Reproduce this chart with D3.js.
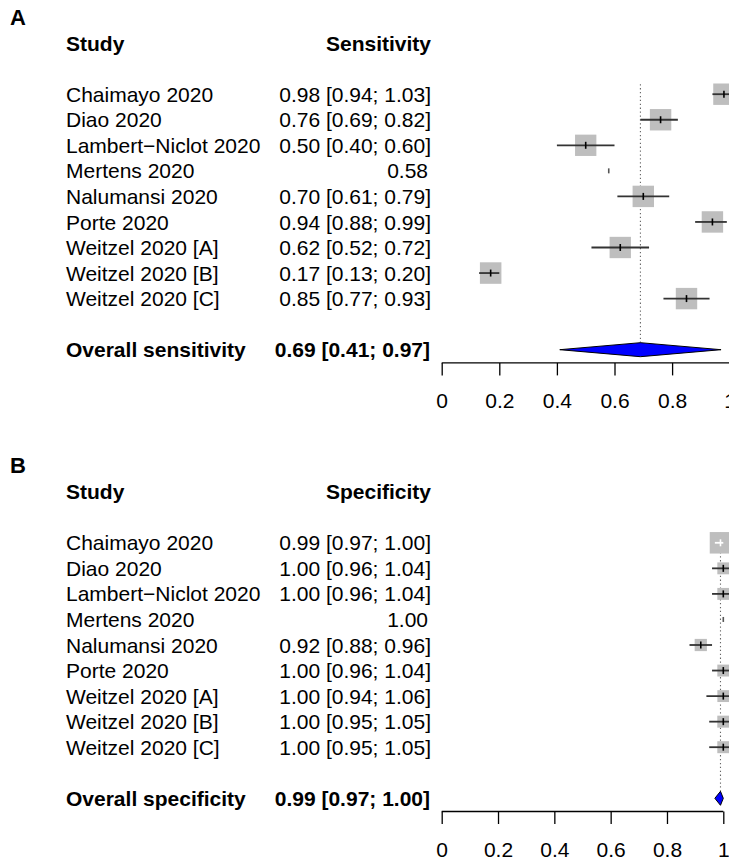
<!DOCTYPE html>
<html>
<head>
<meta charset="utf-8">
<script src="https://cdn.jsdelivr.net/npm/d3@7"></script>
<style>
  html, body { margin: 0; padding: 0; background: #fff; overflow: hidden; }
  text { font-family: "Liberation Sans", Arial, sans-serif; fill: #000; }
</style>
</head>
<body>
<svg id="chart" width="729" height="863"></svg>
<script>
// Study labels shared by both panels
const studies = [
  "Chaimayo 2020", "Diao 2020", "Lambert\u2212Niclot 2020", "Mertens 2020",
  "Nalumansi 2020", "Porte 2020", "Weitzel 2020 [A]", "Weitzel 2020 [B]", "Weitzel 2020 [C]"
];

// Sensitivity: estimate, lower and upper 95% CI, weight (%)
const sensEst   = [0.98, 0.76, 0.50, 0.58, 0.70, 0.94, 0.62, 0.17, 0.85];
const sensLower = [0.94, 0.69, 0.40, null, 0.61, 0.88, 0.52, 0.13, 0.77];
const sensUpper = [1.03, 0.82, 0.60, null, 0.79, 0.99, 0.72, 0.20, 0.93];
const sensWeight = [12.5, 12.5, 12.4, 0, 12.5, 12.5, 12.4, 12.6, 12.5];
const sensPooled = [0.69, 0.41, 0.97];

// Specificity: estimate, lower and upper 95% CI, weight (%)
const specEst   = [0.99, 1.00, 1.00, 1.00, 0.92, 1.00, 1.00, 1.00, 1.00];
const specLower = [0.97, 0.96, 0.96, null, 0.88, 0.96, 0.94, 0.95, 0.95];
const specUpper = [1.00, 1.04, 1.04, null, 0.96, 1.04, 1.06, 1.05, 1.05];
const specWeight = [31.5, 9.7, 9.7, 0, 10.2, 9.7, 9.6, 9.8, 9.8];
const specPooled = [0.99, 0.97, 1.00];

const axisTicks = [0, 0.2, 0.4, 0.6, 0.8, 1];

const svg = d3.select("#chart");
const FS = 21;
const fmt = d3.format(".2f");

function panel(opts) {
  const g = svg.append("g").attr("transform", `translate(0,${opts.top})`);
  const rowH = 25.55;
  const y = d3.scaleLinear().domain([0, 1]).range([0, rowH]); // row index -> offset
  const row0 = 51.1;       // first study row centre
  const yRow = i => row0 + y(i);
  const yPooled = yRow(10);
  const yAxis = yPooled + 13.2;
  const x = d3.scaleLinear().domain([0, 1]).range([441.7, opts.xOne]);
  const rightCol = 431;

  // panel letter
  g.append("text").attr("x", 10).attr("y", -18.5 + 0)
    .attr("font-size", 22).attr("font-weight", "bold").text(opts.letter);

  // headers
  g.append("text").attr("x", 66).attr("y", yRow(-2) + 7.6)
    .attr("font-size", FS).attr("font-weight", "bold").text("Study");
  g.append("text").attr("x", rightCol).attr("y", yRow(-2) + 7.6)
    .attr("text-anchor", "end").attr("font-size", FS).attr("font-weight", "bold").text(opts.header);

  const data = studies.map((s, i) => ({
    name: s, est: opts.est[i], lo: opts.lower[i], hi: opts.upper[i], w: opts.weight[i], i
  }));
  const wMax = d3.max(data, d => d.w);
  const size = d3.scaleSqrt().domain([0, wMax]).range([0, 21.5]);

  // study labels
  g.selectAll("text.study").data(data).join("text").attr("class", "study")
    .attr("x", 66).attr("y", d => yRow(d.i) + 7.6).attr("font-size", FS).text(d => d.name);
  g.selectAll("text.ci").data(data).join("text").attr("class", "ci")
    .attr("x", d => d.lo == null ? rightCol - 3 : rightCol)
    .attr("y", d => yRow(d.i) + 7.6).attr("text-anchor", "end").attr("font-size", FS)
    .text(d => d.lo == null ? fmt(d.est) : `${fmt(d.est)} [${fmt(d.lo)}; ${fmt(d.hi)}]`);

  // reference line at pooled estimate
  g.append("line")
    .attr("x1", x(opts.pooled[0])).attr("x2", x(opts.pooled[0]))
    .attr("y1", yRow(0) - 10).attr("y2", yPooled - 7)
    .attr("stroke", "#666").attr("stroke-width", 1.1).attr("stroke-dasharray", "1.3,2.6");

  // weight squares
  g.selectAll("rect.sq").data(data.filter(d => d.w > 0)).join("rect").attr("class", "sq")
    .attr("x", d => x(d.est) - size(d.w) / 2).attr("y", d => yRow(d.i) - size(d.w) / 2)
    .attr("width", d => size(d.w)).attr("height", d => size(d.w))
    .attr("fill", "#bebebe");

  // confidence intervals (white when hidden inside the square)
  const inside = d => d.lo != null &&
    x(d.lo) >= x(d.est) - size(d.w) / 2 && x(d.hi) <= x(d.est) + size(d.w) / 2;
  g.selectAll("line.ci").data(data.filter(d => d.lo != null)).join("line").attr("class", "ci")
    .attr("x1", d => x(d.lo)).attr("x2", d => x(d.hi))
    .attr("y1", d => yRow(d.i)).attr("y2", d => yRow(d.i))
    .attr("stroke", d => inside(d) ? "#fff" : "#333").attr("stroke-width", 1.8);

  // point estimate ticks
  g.selectAll("line.pt").data(data).join("line").attr("class", "pt")
    .attr("x1", d => x(d.est)).attr("x2", d => x(d.est))
    .attr("y1", d => yRow(d.i) - (d.lo == null ? 2.5 : 3.5))
    .attr("y2", d => yRow(d.i) + (d.lo == null ? 2.5 : 3.5))
    .attr("stroke", d => inside(d) ? "#fff" : (d.lo == null ? "#555" : "#000"))
    .attr("stroke-width", 1.6);

  // pooled row
  g.append("text").attr("x", 66).attr("y", yPooled + 7.6)
    .attr("font-size", FS).attr("font-weight", "bold").text(opts.pooledLabel);
  g.append("text").attr("x", rightCol - 1).attr("y", yPooled + 7.6)
    .attr("text-anchor", "end").attr("font-size", FS).attr("font-weight", "bold")
    .text(`${fmt(opts.pooled[0])} [${fmt(opts.pooled[1])}; ${fmt(opts.pooled[2])}]`);
  const [pe, pl, pu] = opts.pooled;
  g.append("polygon")
    .attr("points", [[x(pl), yPooled], [x(pe), yPooled - 7], [x(pu), yPooled], [x(pe), yPooled + 7]]
      .map(p => p.join(",")).join(" "))
    .attr("fill", "#0000ff").attr("stroke", "#000").attr("stroke-width", 1);

  // x axis
  const ax = g.append("g").attr("transform", `translate(0,${yAxis})`)
    .call(d3.axisBottom(x).tickValues(axisTicks).tickFormat(d3.format("~g"))
      .tickSize(12.5).tickSizeOuter(0));
  ax.select(".domain").remove();
  ax.append("line").attr("x1", x(0)).attr("x2", x(1))
    .attr("stroke", "#000").attr("stroke-width", 1.3);
  ax.selectAll(".tick line").attr("stroke", "#000").attr("stroke-width", 1.3);
  ax.selectAll(".tick text").attr("font-size", FS).attr("fill", "#000")
    .attr("font-family", "Liberation Sans, Arial, sans-serif")
    .attr("y", 45.5).attr("dy", null);
}

panel({
  top: 43.1, letter: "A", header: "Sensitivity", pooledLabel: "Overall sensitivity",
  est: sensEst, lower: sensLower, upper: sensUpper, weight: sensWeight,
  pooled: sensPooled, xOne: 729.7
});
panel({
  top: 491.7, letter: "B", header: "Specificity", pooledLabel: "Overall specificity",
  est: specEst, lower: specLower, upper: specUpper, weight: specWeight,
  pooled: specPooled, xOne: 723.3
});
</script>
</body>
</html>
